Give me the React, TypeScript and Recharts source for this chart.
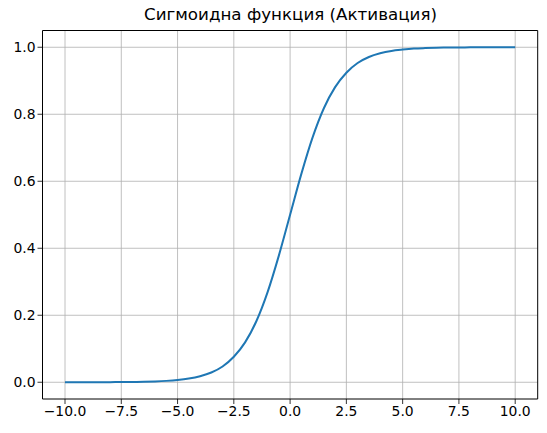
import React from "react";
import { LineChart, Line, XAxis, YAxis, CartesianGrid, ReferenceArea } from "recharts";

const xValues = [
  -10, -9.5, -9, -8.5, -8, -7.5, -7, -6.5, -6, -5.5, -5, -4.5, -4, -3.5, -3, -2.5, -2, -1.5, -1, -0.5,
  0, 0.5, 1, 1.5, 2, 2.5, 3, 3.5, 4, 4.5, 5, 5.5, 6, 6.5, 7, 7.5, 8, 8.5, 9, 9.5, 10,
];
const yValues = [
  0.0000, 0.0001, 0.0001, 0.0002, 0.0003, 0.0006, 0.0009, 0.0015, 0.0025, 0.0041, 0.0067, 0.011, 0.018,
  0.029, 0.047, 0.076, 0.119, 0.182, 0.269, 0.378, 0.5, 0.622, 0.731, 0.818, 0.881, 0.924, 0.953, 0.971,
  0.982, 0.989, 0.993, 0.996, 0.9975, 0.9985, 0.9991, 0.9994, 0.9997, 0.9998, 0.9999, 0.9999, 1.0,
];
const xTicks = [-10, -7.5, -5, -2.5, 0, 2.5, 5, 7.5, 10];
const yTicks = [0, 0.2, 0.4, 0.6, 0.8, 1.0];
const title = "Сигмоидна функция (Активация)";

const data = xValues.map((x, i) => ({ x, y: yValues[i] }));

const fmt = (v: number, d: number) => {
  const s = Math.abs(v).toFixed(d);
  return v < 0 ? "\u2212" + s : s;
};

const FONT = "DejaVu Sans, sans-serif";

export default function App() {
  return (
    <div style={{ position: "absolute", left: 0, top: 0, width: 547, height: 433, background: "#fff" }}>
      <div
        style={{
          position: "absolute",
          left: 43,
          width: 495,
          top: 4,
          textAlign: "center",
          fontFamily: FONT,
          fontSize: 16.7,
          color: "#000",
          lineHeight: "20px",
        }}
      >
        {title}
      </div>
      <LineChart
        width={547}
        height={433}
        data={data}
        margin={{ top: 30.5, right: 9.3, bottom: 0, left: 0 }}
      >
        <CartesianGrid stroke="#b0b0b0" strokeWidth={0.8} horizontalValues={yTicks} verticalValues={xTicks} />
        <XAxis
          dataKey="x"
          type="number"
          domain={[-11, 11]}
          ticks={xTicks}
          allowDataOverflow
          height={34}
          tickSize={5}
          tickLine={{ stroke: "#000", strokeWidth: 0.8 }}
          axisLine={false}
          tickFormatter={(v: number) => fmt(v, 1)}
          tick={{ fill: "#000", fontSize: 13.9, fontFamily: FONT }}
          interval={0}
        />
        <YAxis
          type="number"
          domain={[-0.05, 1.05]}
          ticks={yTicks}
          allowDataOverflow
          width={42.5}
          tickSize={5}
          tickLine={{ stroke: "#000", strokeWidth: 0.8 }}
          axisLine={false}
          tickFormatter={(v: number) => fmt(v, 1)}
          tick={{ fill: "#000", fontSize: 13.9, fontFamily: FONT }}
          interval={0}
        />
        <Line
          type="monotone"
          dataKey="y"
          stroke="#1f77b4"
          strokeWidth={2}
          dot={false}
          isAnimationActive={false}
        />
        <ReferenceArea x1={-11} x2={11} y1={-0.05} y2={1.05} stroke="#000" strokeWidth={1} fill="none" fillOpacity={0} ifOverflow="visible" />
      </LineChart>
    </div>
  );
}
